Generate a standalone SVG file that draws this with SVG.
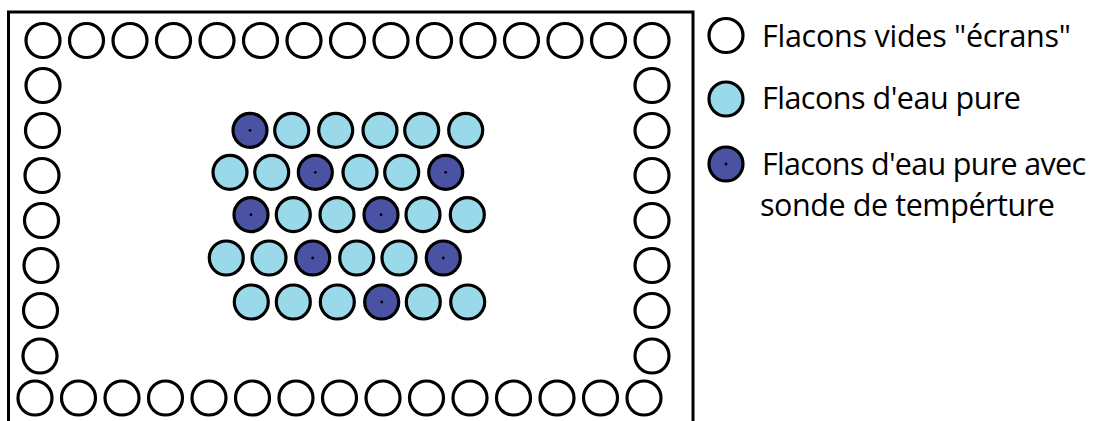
<svg xmlns="http://www.w3.org/2000/svg" xmlns:xlink="http://www.w3.org/1999/xlink" width="1104" height="421" viewBox="0 0 1104 421">
<style>
.ring{stroke:#000;stroke-width:3.2}
.empty{fill:#fff}
.water{fill:#99d9ea}
.probe{fill:#4a53a3}
.dot{fill:#000;stroke:none}
.lbl{font-family:"Open Sans","Noto Sans","Liberation Sans",sans-serif;font-size:30.5px;fill:#000}
</style>
<defs>
<g id="vEmpty"><circle class="ring empty" r="17"/></g>
<g id="vWater"><circle class="ring water" r="17"/></g>
<g id="vProbe"><circle class="ring probe" r="17"/><circle class="dot" r="1.4"/></g>
</defs>
<rect width="1104" height="421" fill="#fff"/>
<path id="frame" d="M8.5,425 V12 H693 V425" fill="none" stroke="#000" stroke-width="3"/>
<g id="top-row">
<use href="#vEmpty" x="43" y="40.5"/><use href="#vEmpty" x="86.5" y="40.5"/><use href="#vEmpty" x="130" y="40.5"/><use href="#vEmpty" x="173.5" y="40.5"/><use href="#vEmpty" x="217" y="40.5"/><use href="#vEmpty" x="260.5" y="40.5"/><use href="#vEmpty" x="304" y="40.5"/><use href="#vEmpty" x="347.5" y="40.5"/><use href="#vEmpty" x="391" y="40.5"/><use href="#vEmpty" x="434.5" y="40.5"/><use href="#vEmpty" x="478" y="40.5"/><use href="#vEmpty" x="521.5" y="40.5"/><use href="#vEmpty" x="565" y="40.5"/><use href="#vEmpty" x="608.5" y="40.5"/><use href="#vEmpty" x="652" y="40.5"/>
</g>
<g id="left-column">
<use href="#vEmpty" x="43" y="85.5"/><use href="#vEmpty" x="42.5" y="130.5"/><use href="#vEmpty" x="42" y="175.5"/><use href="#vEmpty" x="41.5" y="220.5"/><use href="#vEmpty" x="41" y="265.5"/><use href="#vEmpty" x="40.5" y="310.5"/><use href="#vEmpty" x="40" y="356"/>
</g>
<g id="right-column">
<use href="#vEmpty" x="652" y="85.5"/><use href="#vEmpty" x="652" y="130.5"/><use href="#vEmpty" x="652" y="175.5"/><use href="#vEmpty" x="652" y="220.5"/><use href="#vEmpty" x="652" y="265.5"/><use href="#vEmpty" x="652" y="310.5"/><use href="#vEmpty" x="652" y="356"/>
</g>
<g id="bottom-row">
<use href="#vEmpty" x="35" y="398"/><use href="#vEmpty" x="78.5" y="398"/><use href="#vEmpty" x="122" y="398"/><use href="#vEmpty" x="165.5" y="398"/><use href="#vEmpty" x="209" y="398"/><use href="#vEmpty" x="252.5" y="398"/><use href="#vEmpty" x="296" y="398"/><use href="#vEmpty" x="339.5" y="398"/><use href="#vEmpty" x="383" y="398"/><use href="#vEmpty" x="426.5" y="398"/><use href="#vEmpty" x="470" y="398"/><use href="#vEmpty" x="513.5" y="398"/><use href="#vEmpty" x="557" y="398"/><use href="#vEmpty" x="600.5" y="398"/><use href="#vEmpty" x="644" y="398"/>
</g>
<g id="cluster-row1">
<use href="#vProbe" x="250" y="130.3"/><use href="#vWater" x="291.7" y="130.3"/><use href="#vWater" x="335.7" y="130.3"/><use href="#vWater" x="380" y="130.3"/><use href="#vWater" x="421.7" y="130.3"/><use href="#vWater" x="465.7" y="130.3"/>
</g>
<g id="cluster-row2">
<use href="#vWater" x="230" y="172.3"/><use href="#vWater" x="271.7" y="172.3"/><use href="#vProbe" x="315.3" y="172.3"/><use href="#vWater" x="360" y="172.3"/><use href="#vWater" x="401.7" y="172.3"/><use href="#vProbe" x="445.7" y="172.3"/>
</g>
<g id="cluster-row3">
<use href="#vProbe" x="251" y="214.7"/><use href="#vWater" x="293.3" y="214.7"/><use href="#vWater" x="337" y="214.7"/><use href="#vProbe" x="381" y="214.7"/><use href="#vWater" x="423" y="214.7"/><use href="#vWater" x="467.3" y="214.7"/>
</g>
<g id="cluster-row4">
<use href="#vWater" x="226.3" y="258"/><use href="#vWater" x="269" y="258"/><use href="#vProbe" x="312.7" y="258"/><use href="#vWater" x="356.7" y="258"/><use href="#vWater" x="399" y="258"/><use href="#vProbe" x="443.3" y="258"/>
</g>
<g id="cluster-row5">
<use href="#vWater" x="251.3" y="302"/><use href="#vWater" x="293.3" y="302"/><use href="#vWater" x="337.3" y="302"/><use href="#vProbe" x="381.7" y="302"/><use href="#vWater" x="423.3" y="302"/><use href="#vWater" x="467.7" y="302"/>
</g>
<g id="legend-empty">
<use href="#vEmpty" x="726" y="35.5"/>
<text class="lbl" x="762" y="46.5" textLength="309" lengthAdjust="spacing">Flacons vides "écrans"</text>
</g>
<g id="legend-water">
<use href="#vWater" x="726" y="99"/>
<text class="lbl" x="762" y="108.5" textLength="259" lengthAdjust="spacing">Flacons d'eau pure</text>
</g>
<g id="legend-probe">
<use href="#vProbe" x="726" y="164"/>
<text class="lbl" x="762" y="175" textLength="324" lengthAdjust="spacing">Flacons d'eau pure avec</text>
<text class="lbl" x="760" y="216" textLength="295" lengthAdjust="spacing">sonde de tempérture</text>
</g>
</svg>
